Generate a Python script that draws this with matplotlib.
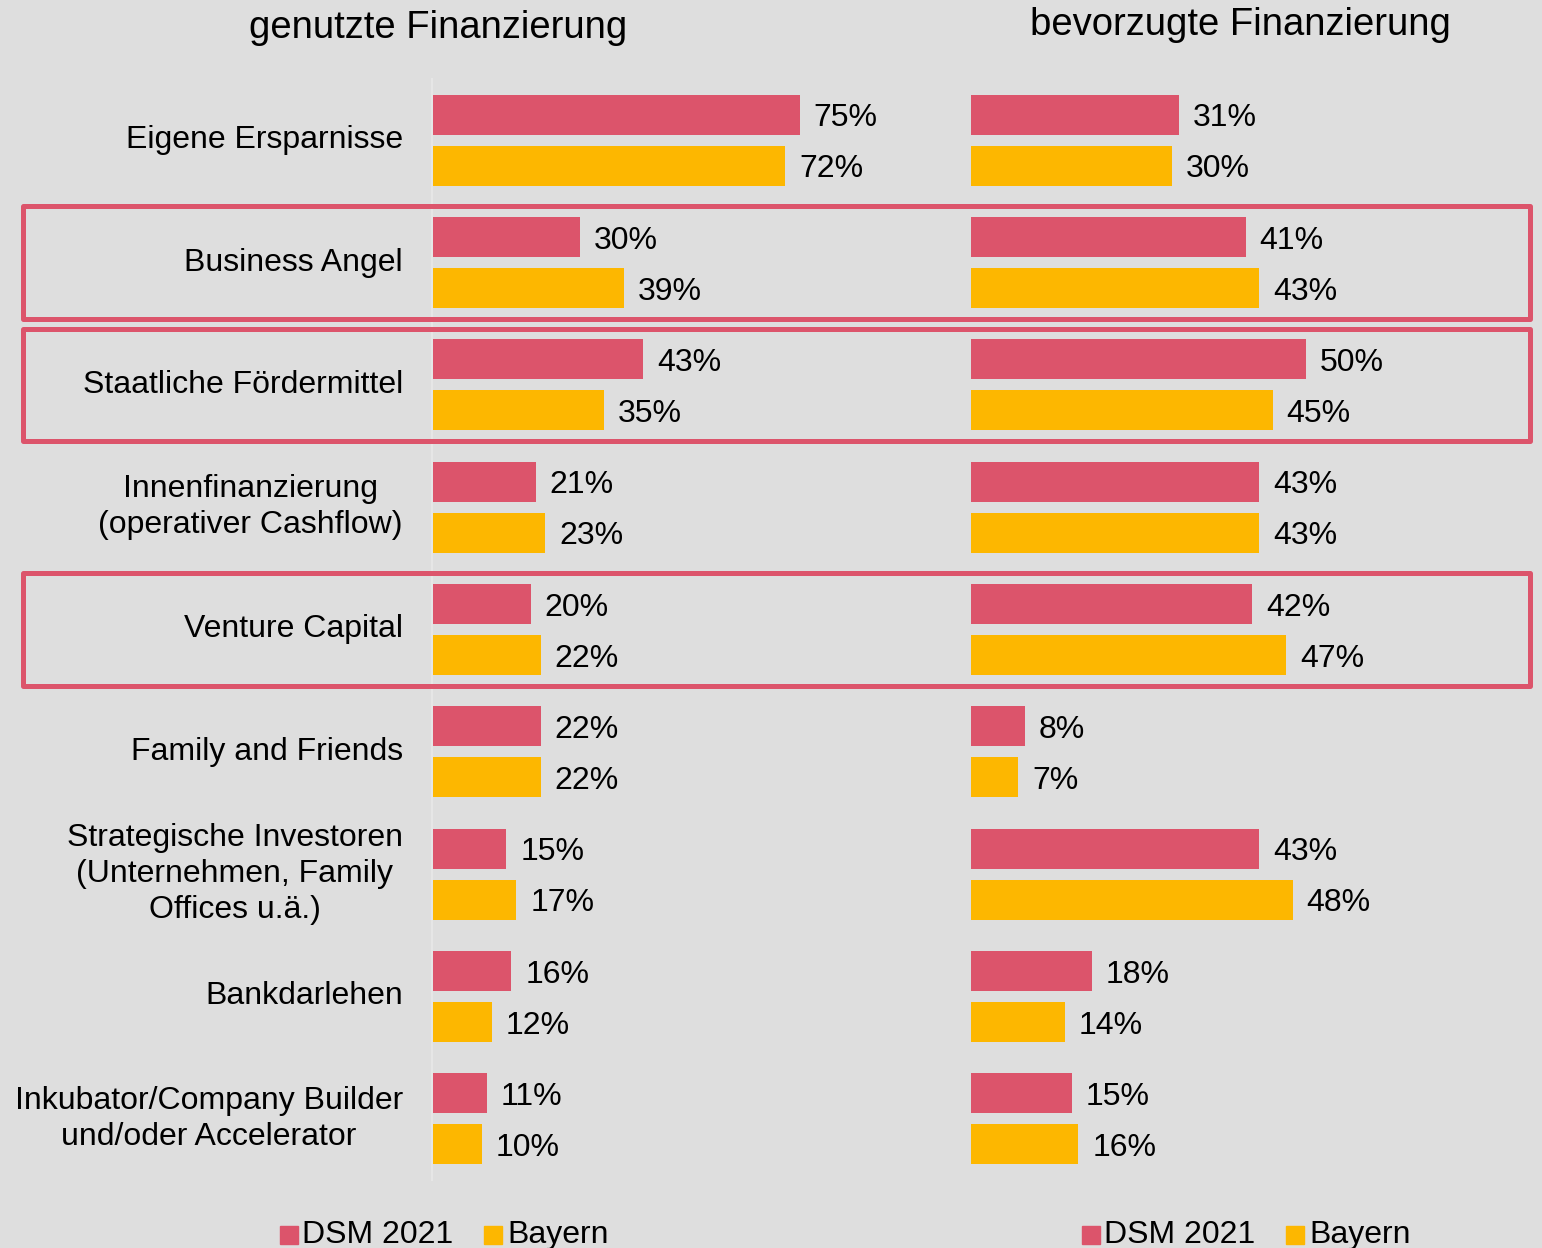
import matplotlib
matplotlib.use("Agg")
import matplotlib.pyplot as plt
from matplotlib.patches import Rectangle
from matplotlib.transforms import blended_transform_factory

plt.rcParams['font.family'] = ['Liberation Sans', 'DejaVu Sans']

categories = [
    "Eigene Ersparnisse",
    "Business Angel",
    "Staatliche Fördermittel",
    "Innenfinanzierung\n(operativer Cashflow)",
    "Venture Capital",
    "Family and Friends",
    "Strategische Investoren\n(Unternehmen, Family\nOffices u.ä.)",
    "Bankdarlehen",
    "Inkubator/Company Builder\nund/oder Accelerator",
]
used_dsm = [75, 30, 43, 21, 20, 22, 15, 16, 11]
used_bayern = [72, 39, 35, 23, 22, 22, 17, 12, 10]
pref_dsm = [31, 41, 50, 43, 42, 8, 43, 18, 15]
pref_bayern = [30, 43, 45, 43, 47, 7, 48, 14, 16]
highlighted = ["Business Angel", "Staatliche Fördermittel", "Venture Capital"]
series_names = ["DSM 2021", "Bayern"]
titles = ["genutzte Finanzierung", "bevorzugte Finanzierung"]

RED = "#DC546B"
YELLOW = "#FDB700"
BG = "#DEDEDE"

W, H = 1542, 1248
fig = plt.figure(figsize=(W / 100, H / 100), dpi=100, facecolor=BG)

def px_axes(x0, y0, x1, y1):
    return fig.add_axes([x0 / W, 1 - y1 / H, (x1 - x0) / W, (y1 - y0) / H])

axL = px_axes(433, 79, 922, 1180)
axR = px_axes(971, 79, 1507, 1180)

n = len(categories)
ypos = list(range(n))
off = 0.209
bh = 0.328
fs = 23
lab_dy = 0.03

for ax, d1, d2, xmax in [(axL, used_dsm, used_bayern, 100), (axR, pref_dsm, pref_bayern, 80)]:
    ax.set_facecolor(BG)
    ax.patch.set_alpha(0)
    ax.set_xlim(0, xmax)
    ax.set_ylim(n - 0.5, -0.5)
    ax.barh([y - off for y in ypos], d1, height=bh, color=RED, zorder=3)
    ax.barh([y + off for y in ypos], d2, height=bh, color=YELLOW, zorder=3)
    pxu = (ax.get_position().width * W) / xmax
    for vals, o in [(d1, -off), (d2, off)]:
        for y, v in zip(ypos, vals):
            ax.text(v + 14 / pxu, y + o + lab_dy, f"{v}%", ha='left', va='center',
                    fontsize=fs, color="black")
    ax.set_xticks([])
    ax.set_yticks([])
    for s in ax.spines.values():
        s.set_visible(False)

axL.spines['left'].set_visible(True)
axL.spines['left'].set_color("#E6E6E6")
axL.spines['left'].set_linewidth(1.5)
axL.spines['left'].set_position(('outward', 1))

# category labels
for y, c in zip(ypos, categories):
    axL.text(-30 / 4.89, y, c, ha='right', va='center', multialignment='center',
             fontsize=fs, linespacing=1.26, transform=axL.transData)

# titles
fig.text(438.5 / W, 1 - 28 / H, titles[0], ha='center', va='center', fontsize=27.5)
fig.text(1240 / W, 1 - 25 / H, titles[1], ha='center', va='center', fontsize=27.5)

# highlight boxes
tr = blended_transform_factory(fig.transFigure, axL.transData)
for c in highlighted:
    i = categories.index(c)
    box = Rectangle((23 / W, i - 0.458), (1530 - 23) / W, 0.916,
                    transform=tr, fill=False, edgecolor=RED, linewidth=3.6,
                    joinstyle='round', clip_on=False, zorder=5)
    fig.patches.append(box)

# legends
def legend_at(x_sq, x_txt1, x_sq2, x_txt2, y):
    sq = 18
    for xs, col in [(x_sq, RED), (x_sq2, YELLOW)]:
        fig.patches.append(Rectangle((xs / W, 1 - (y + sq / 2) / H), sq / W, sq / H,
                                     transform=fig.transFigure, color=col))
    fig.text(x_txt1 / W, 1 - y / H, series_names[0], ha='left', va='center', fontsize=fs)
    fig.text(x_txt2 / W, 1 - y / H, series_names[1], ha='left', va='center', fontsize=fs)

legend_at(280, 302, 484, 507, 1235)
legend_at(1082, 1104, 1286, 1309, 1235)

fig.savefig("out.png", dpi=100, facecolor=BG)
